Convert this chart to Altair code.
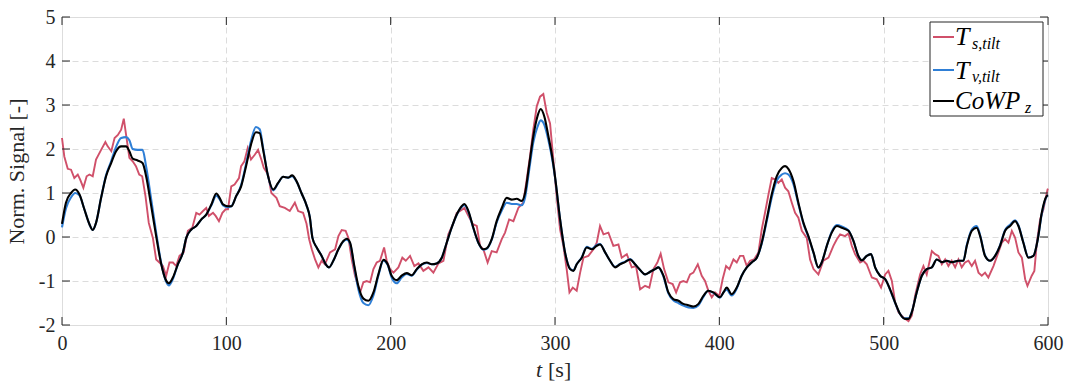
import altair as alt
import pandas as pd

# ---------------- data ----------------
t_black = [0, 2.4, 5.5, 8, 10.6, 13.6, 16.7, 18.7, 20.7, 23.8, 26.8, 29.9, 32.9, 36, 39, 41, 43, 46, 49, 51.2,
           54.3, 57.3, 60.4, 63, 65, 67.5, 70.5, 73.6, 75.6, 78.7, 81.7, 84.8, 87.8, 90.9, 93.9, 95.9, 98, 101,
           103, 106, 109, 112, 115, 118, 120.3, 122.4, 125.4, 128.5, 131.5, 134.6, 137.6, 140, 142.7, 145.7,
           148.8, 150.8, 152.4, 155, 158, 160.5, 162.5, 165.1, 168.2, 171.2, 173.3, 175.3, 177.9, 180.3, 183.4,
           186.4, 189.5, 192.5, 195.6, 198.2, 200.6, 203.7, 206.7, 209.8, 212.8, 215.9, 218.9, 222, 225, 228,
           231.1, 234.1, 237.1, 240.2, 243.2, 244.9, 247.3, 250.3, 253.4, 256.4, 258.4, 261.5, 264.5, 267.6,
           270.6, 273.7, 276.7, 279.7, 281.8, 284.2, 286.8, 289.3, 291.3, 293.5, 296, 298.4, 300, 303.1, 306.1,
           309.2, 311.2, 313.2, 316.3, 319.3, 322.4, 325.4, 327.4, 330.5, 333.5, 336.6, 339.6, 342.6, 345.7,
           348.7, 351.8, 354.8, 357.9, 360.9, 362.9, 366, 369, 372, 375.1, 378.1, 381.2, 384.2, 387.3, 390.3,
           393.3, 396.4, 400.4, 402.5, 404.5, 407.5, 410.6, 413.6, 416.7, 419.7, 422.8, 425.8, 428.8, 431.9,
           434.9, 438, 440, 442, 445.1, 448.1, 451.2, 454.2, 457.3, 460.3, 462.3, 465.4, 468.4, 471.5, 474.5,
           478.6, 481.6, 484.6, 486.7, 489.7, 492.3, 494.8, 497.8, 500.9, 503.9, 507, 510, 513, 515.1, 517.1,
           520.1, 523.2, 526.2, 529.3, 532.3, 535.4, 538.4, 541.4, 545.5, 548.5, 550.6, 553.6, 556.6, 558.7,
           561.7, 564.8, 567.8, 570.8, 573.9, 576.9, 580, 582, 585, 588.1, 591.1, 593.8, 596.2, 599.2, 600]

v_black = [0.30, 0.78, 1.00, 1.08, 0.97, 0.63, 0.29, 0.16, 0.32, 0.89, 1.38, 1.68, 1.95, 2.06, 2.06, 1.95, 1.78,
           1.74, 1.68, 1.38, 0.70, 0.02, -0.62, -0.96, -1.05, -0.92, -0.62, -0.35, -0.02, 0.17, 0.25, 0.40, 0.51,
           0.74, 0.99, 0.89, 0.74, 0.70, 0.70, 0.93, 1.15, 1.61, 2.10, 2.38, 2.36, 1.98, 1.38, 1.08, 1.23, 1.37,
           1.35, 1.40, 1.27, 1.00, 0.72, 0.45, -0.02, -0.24, -0.43, -0.62, -0.69, -0.54, -0.28, -0.09, -0.04,
           -0.13, -0.66, -1.11, -1.40, -1.45, -1.26, -0.85, -0.52, -0.62, -0.88, -0.98, -0.88, -0.82, -0.87,
           -0.73, -0.62, -0.58, -0.62, -0.60, -0.47, -0.13, 0.21, 0.51, 0.70, 0.75, 0.59, 0.21, -0.13, -0.28,
           -0.26, -0.05, 0.36, 0.66, 0.89, 0.85, 0.87, 0.82, 1.00, 1.61, 2.29, 2.74, 2.91, 2.74, 2.29, 1.80,
           1.38, 0.40, -0.35, -0.73, -0.77, -0.62, -0.47, -0.24, -0.28, -0.20, -0.17, -0.35, -0.54, -0.69,
           -0.62, -0.57, -0.51, -0.62, -0.75, -0.85, -0.79, -0.73, -0.69, -0.88, -1.26, -1.41, -1.45, -1.52,
           -1.55, -1.58, -1.52, -1.34, -1.22, -1.26, -1.37, -1.26, -1.15, -1.30, -1.15, -0.88, -0.69, -0.58,
           -0.47, -0.13, 0.40, 0.97, 1.38, 1.57, 1.61, 1.55, 1.27, 0.78, 0.32, 0.02, -0.35, -0.69, -0.58, -0.20,
           0.10, 0.25, 0.21, 0.14, -0.09, -0.43, -0.53, -0.43, -0.39, -0.69, -0.88, -0.96, -1.19, -1.49, -1.75,
           -1.86, -1.86, -1.71, -1.26, -0.88, -0.73, -0.69, -0.51, -0.57, -0.54, -0.57, -0.54, -0.54, -0.20,
           0.14, 0.21, 0.02, -0.43, -0.54, -0.43, -0.20, 0.14, 0.25, 0.36, 0.25, -0.13, -0.47, -0.43, -0.05,
           0.55, 0.93, 0.95]

v_blue = [0.22, 0.65, 0.90, 1.00, 0.95, 0.63, 0.29, 0.16, 0.32, 0.89, 1.40, 1.72, 2.05, 2.25, 2.27, 2.20, 2.00,
          1.98, 1.98, 1.60, 0.85, 0.10, -0.60, -0.98, -1.10, -0.95, -0.62, -0.35, -0.02, 0.17, 0.25, 0.40, 0.51,
          0.72, 0.94, 0.86, 0.72, 0.68, 0.70, 0.93, 1.18, 1.66, 2.18, 2.50, 2.45, 2.02, 1.38, 1.06, 1.22, 1.37,
          1.35, 1.38, 1.26, 1.00, 0.72, 0.45, -0.02, -0.24, -0.43, -0.62, -0.69, -0.54, -0.28, -0.10, -0.06,
          -0.15, -0.70, -1.18, -1.50, -1.55, -1.33, -0.88, -0.54, -0.64, -0.92, -1.05, -0.92, -0.84, -0.88,
          -0.74, -0.63, -0.59, -0.62, -0.60, -0.47, -0.13, 0.21, 0.50, 0.68, 0.72, 0.57, 0.20, -0.14, -0.29,
          -0.27, -0.06, 0.33, 0.60, 0.78, 0.75, 0.75, 0.72, 0.90, 1.50, 2.15, 2.50, 2.65, 2.55, 2.20, 1.75,
          1.36, 0.40, -0.35, -0.72, -0.76, -0.62, -0.46, -0.22, -0.27, -0.18, -0.16, -0.35, -0.54, -0.68,
          -0.61, -0.56, -0.50, -0.62, -0.75, -0.85, -0.79, -0.73, -0.69, -0.90, -1.28, -1.44, -1.50, -1.56,
          -1.60, -1.61, -1.55, -1.36, -1.22, -1.27, -1.38, -1.26, -1.20, -1.33, -1.17, -0.88, -0.69, -0.58,
          -0.47, -0.15, 0.35, 0.90, 1.28, 1.42, 1.45, 1.42, 1.20, 0.75, 0.30, 0.00, -0.36, -0.70, -0.58, -0.20,
          0.12, 0.27, 0.24, 0.15, -0.09, -0.43, -0.53, -0.43, -0.39, -0.69, -0.88, -0.96, -1.20, -1.50, -1.75,
          -1.85, -1.85, -1.70, -1.26, -0.88, -0.73, -0.69, -0.51, -0.57, -0.54, -0.57, -0.54, -0.54, -0.18,
          0.17, 0.25, 0.04, -0.42, -0.54, -0.43, -0.19, 0.16, 0.28, 0.38, 0.27, -0.12, -0.46, -0.43, -0.05,
          0.52, 0.92, 0.95]

t_red = [0, 1.4, 3.5, 5.5, 7.5, 9.6, 11, 13, 15, 16.7, 18.7, 20.7, 23.8, 26.4, 27.8, 30, 32, 34, 36, 37.6, 39,
         41, 43, 45, 47, 48.8, 50.8, 52.8, 55.3, 57.3, 59.3, 61.4, 63.4, 65.4, 67.5, 69.5, 71.5, 74, 76.6, 79.3,
         81.7, 83.7, 85.8, 87.8, 89.4, 91.9, 93.5, 95.5, 97.6, 99.6, 101, 103, 105, 107.7, 109, 111, 113, 115,
         117.3, 119.3, 121.3, 122.8, 125.4, 127.4, 130.5, 132.5, 135.6, 138.6, 141.7, 143.7, 146.7, 148.8,
         150.4, 152, 154, 156, 158, 160, 163.1, 166.2, 168.2, 170.2, 172.6, 174.3, 176.3, 178.3, 181.4, 183.4,
         185.4, 187.5, 189.5, 191.5, 193.5, 196, 197.6, 199.6, 201.7, 204.7, 207.1, 209.2, 211.8, 214.4, 216.9,
         219.9, 223, 226, 229.1, 232.1, 235.1, 238.2, 240.2, 242.2, 244.9, 247.3, 250, 252.4, 254.4, 256.4,
         259, 261.5, 264.5, 267.6, 269.6, 272.1, 274.7, 277.7, 280.7, 282.8, 284.8, 286.8, 288.9, 290.9, 292.9,
         295, 297, 299, 301, 303.1, 305.1, 307.1, 308.8, 310.8, 313.2, 315.3, 317.3, 320.3, 323.4, 325.4,
         327.4, 329.5, 332.5, 335.5, 338.6, 340.6, 343.7, 346.7, 349.3, 351.8, 354.8, 357.4, 359.9, 362.3,
         364.3, 366.4, 369, 371.6, 373.7, 376.1, 378.1, 380.2, 382.2, 384.2, 386.9, 389.3, 391.3, 393.3, 395.4,
         397.4, 400, 402, 404.1, 406.1, 408.6, 410.6, 412.6, 414.6, 416.7, 418.7, 421.1, 423.8, 425.8, 427.8,
         429.9, 431.9, 433.9, 435.9, 438, 440, 442, 444.1, 446.1, 448.1, 450.2, 453.2, 455.2, 457.3, 460.3,
         463.3, 466.4, 469.4, 471.5, 473.5, 476.5, 478.6, 480.6, 482.6, 485.7, 487.7, 489.7, 492.8, 495.8,
         498.4, 500.9, 502.9, 505, 507, 509, 512, 515.1, 517.1, 519.1, 522.2, 524.2, 526.2, 529.3, 531.3,
         533.3, 535.4, 537.4, 539.4, 541.4, 543.5, 545.5, 547.5, 549.5, 551.6, 553.6, 555.6, 557.7, 559.7,
         561.7, 563.7, 566.8, 569.8, 571.9, 573.9, 575.9, 578, 580, 582, 584.1, 586.1, 587.5, 590.1, 591.7,
         593.2, 595.2, 597.2, 599.7, 600]

v_red = [2.25, 1.83, 1.55, 1.53, 1.34, 1.42, 1.31, 1.12, 1.38, 1.42, 1.38, 1.76, 1.98, 2.16, 2.06, 1.95, 2.25,
         2.32, 2.44, 2.69, 2.32, 1.80, 1.72, 1.61, 1.42, 1.38, 0.93, 0.32, -0.02, -0.51, -0.58, -0.66, -0.88,
         -0.58, -0.58, -0.66, -0.43, -0.35, 0.14, 0.21, 0.55, 0.51, 0.59, 0.66, 0.48, 0.55, 0.48, 0.36, 0.55,
         0.63, 0.63, 1.15, 1.19, 1.34, 1.61, 1.72, 2.02, 1.76, 1.87, 1.98, 1.76, 1.57, 1.42, 1.00, 0.89, 0.70,
         0.66, 0.59, 0.78, 0.59, 0.55, 0.30, -0.05, -0.28, -0.51, -0.69, -0.54, -0.62, -0.35, -0.28, 0.02,
         0.16, 0.14, -0.02, -0.51, -0.88, -1.26, -1.03, -1.00, -1.03, -0.73, -0.58, -0.54, -0.24, -0.54,
         -0.73, -0.81, -0.69, -0.47, -0.54, -0.43, -0.66, -0.60, -0.77, -0.69, -0.81, -0.60, -0.54, 0.06,
         0.32, 0.55, 0.59, 0.66, 0.48, 0.29, 0.25, -0.20, -0.28, -0.58, -0.32, -0.35, -0.05, 0.10, 0.40, 0.36,
         0.66, 0.78, 1.31, 1.83, 2.44, 2.97, 3.19, 3.25, 2.82, 2.58, 1.75, 0.93, 0.17, -0.20, -0.73, -1.26,
         -1.15, -1.22, -0.81, -0.47, -0.43, -0.28, -0.13, 0.25, 0.06, 0.10, -0.20, -0.17, -0.47, -0.39, -0.69,
         -0.66, -1.19, -1.11, -1.15, -0.73, -0.58, -0.38, -0.73, -1.03, -1.07, -1.26, -1.03, -1.00, -1.03,
         -0.85, -0.81, -0.62, -0.88, -1.00, -1.22, -1.37, -1.26, -1.34, -0.96, -0.66, -0.73, -0.51, -0.58,
         -0.43, -0.43, -0.66, -0.54, -0.51, -0.35, 0.17, 0.55, 0.97, 1.34, 1.31, 1.23, 1.31, 1.12, 1.04, 0.78,
         0.55, 0.44, 0.14, -0.02, -0.51, -0.73, -0.85, -0.54, -0.47, -0.20, -0.05, 0.06, 0.02, 0.08, -0.20,
         -0.39, -0.58, -0.54, -0.62, -0.92, -0.96, -1.15, -0.85, -0.77, -1.00, -1.49, -1.71, -1.83, -1.91,
         -1.79, -1.34, -0.85, -0.66, -0.85, -0.32, -0.39, -0.43, -0.62, -0.51, -0.66, -0.54, -0.69, -0.51,
         -0.69, -0.58, -0.54, -0.66, -0.54, -0.81, -0.88, -0.81, -0.92, -0.66, -0.35, -0.13, -0.05, -0.13,
         0.14, -0.02, -0.35, -0.47, -0.96, -1.11, -0.88, -0.77, -0.13, 0.40, 0.63, 1.08, 1.10]

x_ticks = [0, 100, 200, 300, 400, 500, 600]
y_ticks = [-2, -1, 0, 1, 2, 3, 4, 5]

# ---------------- styling ----------------
W, H = 986, 308
FONT = "Liberation Serif"
RED, BLUE, BLACK = "#d0506a", "#2f7fd6", "#000000"
AXC = "#262626"

df_black = pd.DataFrame({"t": t_black, "v": v_black})
df_blue = pd.DataFrame({"t": t_black, "v": v_blue})
df_red = pd.DataFrame({"t": t_red, "v": v_red})
df_xt = pd.DataFrame({"t": x_ticks})
df_yt = pd.DataFrame({"v": y_ticks})
one = pd.DataFrame({"a": [0]})

xscale = alt.Scale(domain=[0, 600], nice=False, zero=False)
yscale = alt.Scale(domain=[-2, 5], nice=False, zero=False)

xaxis = alt.Axis(values=x_ticks, grid=True, gridDash=[6, 4], gridColor="#dcdcdc", gridWidth=1,
                 ticks=False, domain=False, labelFont=FONT, labelFontSize=20, labelColor=AXC,
                 labelPadding=8, labelFlush=False, labelExpr="datum.value + ''", title=None)
yaxis = alt.Axis(values=y_ticks, grid=True, gridDash=[6, 4], gridColor="#dcdcdc", gridWidth=1,
                 ticks=False, domain=False, labelFont=FONT, labelFontSize=20, labelColor=AXC,
                 labelPadding=7, labelFlush=False, labelExpr="datum.value + ''",
                 title="Norm. Signal [-]", titleFont=FONT, titleFontSize=22,
                 titleFontWeight="normal", titleColor=AXC, titlePadding=10)

red = alt.Chart(df_red).mark_line(color=RED, strokeWidth=1.9).encode(
    x=alt.X("t:Q", scale=xscale, axis=xaxis),
    y=alt.Y("v:Q", scale=yscale, axis=yaxis))
blue = alt.Chart(df_blue).mark_line(color=BLUE, strokeWidth=2.1, interpolate="monotone").encode(
    x=alt.X("t:Q", scale=xscale), y=alt.Y("v:Q", scale=yscale))
black = alt.Chart(df_black).mark_line(color=BLACK, strokeWidth=2.1, interpolate="monotone").encode(
    x=alt.X("t:Q", scale=xscale), y=alt.Y("v:Q", scale=yscale))

# inward ticks on all four sides
tb = alt.Chart(df_xt).mark_rule(color=AXC, strokeWidth=1).encode(
    x=alt.X("t:Q", scale=xscale), y=alt.value(H - 8), y2=alt.value(H))
tt = alt.Chart(df_xt).mark_rule(color=AXC, strokeWidth=1).encode(
    x=alt.X("t:Q", scale=xscale), y=alt.value(0), y2=alt.value(8))
tl = alt.Chart(df_yt).mark_rule(color=AXC, strokeWidth=1).encode(
    y=alt.Y("v:Q", scale=yscale), x=alt.value(0), x2=alt.value(8))
tr = alt.Chart(df_yt).mark_rule(color=AXC, strokeWidth=1).encode(
    y=alt.Y("v:Q", scale=yscale), x=alt.value(W - 8), x2=alt.value(W))

# x title with italic t
xt1 = alt.Chart(one).mark_text(text="t", font=FONT, fontSize=22, fontStyle="italic", align="left",
                               baseline="alphabetic", color=AXC).encode(x=alt.value(474), y=alt.value(360))
xt2 = alt.Chart(one).mark_text(text="[s]", font=FONT, fontSize=22, align="left",
                               baseline="alphabetic", color=AXC).encode(x=alt.value(486), y=alt.value(360))

# custom legend
box = alt.Chart(one).mark_rect(fill="white", stroke=AXC, strokeWidth=1).encode(
    x=alt.value(868), x2=alt.value(981), y=alt.value(5), y2=alt.value(99))


def swatch(col, yy):
    return alt.Chart(one).mark_rule(color=col, strokeWidth=2).encode(
        x=alt.value(871), x2=alt.value(892), y=alt.value(yy))


def txt(s, xx, yy, size):
    return alt.Chart(one).mark_text(text=s, font=FONT, fontSize=size, fontStyle="italic", align="left",
                                    baseline="alphabetic", color="black").encode(x=alt.value(xx), y=alt.value(yy))


legend = [box,
          swatch(RED, 20), swatch(BLUE, 53), swatch(BLACK, 84),
          txt("T", 893, 28, 26), txt("s,tilt", 910, 32, 16),
          txt("T", 893, 62, 26), txt("v,tilt", 910, 65, 16),
          txt("CoWP", 893, 92, 25), txt("z", 963, 96, 16)]

chart = alt.layer(red, blue, black, tb, tt, tl, tr, xt1, xt2, *legend).properties(
    width=W, height=H,
    autosize=alt.AutoSizeParams(type="none"),
    padding={"left": 62, "top": 17, "right": 18, "bottom": 59},
).configure_view(stroke=AXC, strokeWidth=1).configure(background="white")

chart.save("out.html", embed_options={"renderer": "svg", "actions": False})
